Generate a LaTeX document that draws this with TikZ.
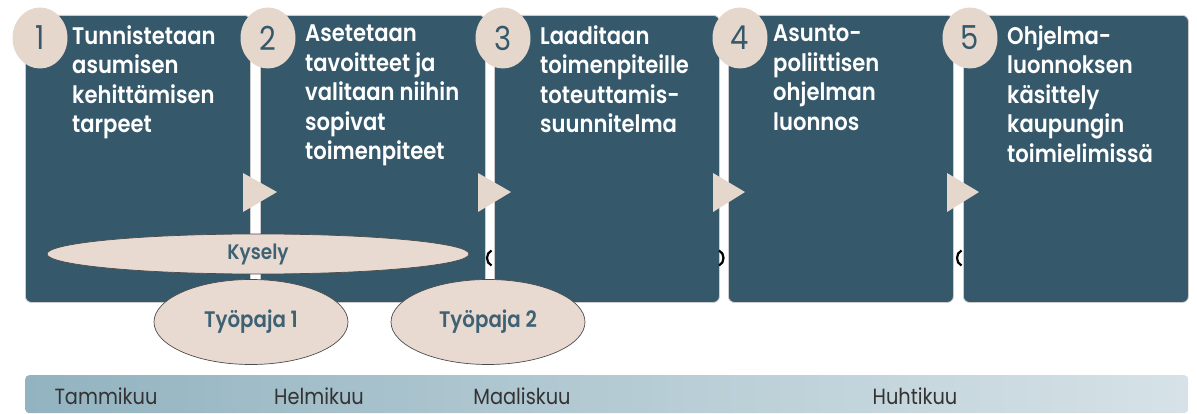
\documentclass[tikz,border=0pt]{standalone}
\usepackage{fontspec}
\setmainfont{Poppins}[FakeStretch=0.88, BoldFont={* SemiBold}]
\usetikzlibrary{shapes.geometric}
\definecolor{boxc}{HTML}{35596B}
\definecolor{beige}{HTML}{E6D7CD}
\definecolor{ellc}{HTML}{E8DAD1}
\definecolor{numc}{HTML}{35596B}
\definecolor{kys}{HTML}{3E6274}
\definecolor{barl}{HTML}{92B3C0}
\definecolor{barr}{HTML}{D6E2E7}
\definecolor{montc}{HTML}{333333}
\begin{document}
\begin{tikzpicture}[x=1pt,y=-1pt,
 stepbox/.style={draw=black!20, line width=0.8pt, fill=boxc, rounded corners=6pt, minimum width=225pt, minimum height=287pt, anchor=north west, inner sep=0pt},
 boxtext/.style={anchor=north west, align=left, text=white, font=\fontsize{24}{29.5}\selectfont\bfseries, inner sep=0pt},
 numcirc/.style={ellipse, fill=beige, minimum width=55pt, minimum height=61pt, inner sep=0pt, text=numc, font=\fontsize{33}{33}\selectfont},
 marker/.style={fill=beige},
 frag/.style={line width=2.2pt, black},
 evt/.style={ellipse, draw=black!70, line width=0.7pt, fill=ellc, inner sep=0pt, text=kys, font=\bfseries},
 month/.style={text=montc, font=\fontsize{22}{22}\selectfont, inner sep=0pt},
 barbox/.style={anchor=north west, rounded corners=4pt, minimum width=1163pt, minimum height=38pt, inner sep=0pt, left color=barl, right color=barr, draw=none}
]
\useasboundingbox (0,0) rectangle (1197,414);
% step boxes
\node[stepbox] (b1) at (25,15) {};
\node[stepbox] (b2) at (260,15) {};
\node[stepbox] (b3) at (494,15) {};
\node[stepbox] (b4) at (728,15) {};
\node[stepbox] (b5) at (963,15) {};
% texts
\node[boxtext] (t1) at (72,25) {Tunnistetaan\\asumisen\\kehittämisen\\tarpeet};
\node[boxtext] (t2) at (305,25) {Asetetaan\\tavoitteet ja\\valitaan niihin\\sopivat\\toimenpiteet};
\node[boxtext] (t3) at (540,25) {Laaditaan\\toimenpiteille\\toteuttamis-\\suunnitelma};
\node[boxtext] (t4) at (773,25) {Asunto-\\poliittisen\\ohjelman\\luonnos};
\node[boxtext] (t5) at (1007,25) {Ohjelma-\\luonnoksen\\käsittely\\kaupungin\\toimielimissä};
% arrow markers
\fill[marker] (243,173) -- (277,192) -- (243,212) -- cycle;
\fill[marker] (478,173) -- (511,192) -- (478,212) -- cycle;
\fill[marker] (713,173) -- (745,192) -- (713,212) -- cycle;
\fill[marker] (947,173) -- (979,192) -- (947,212) -- cycle;
% black fragments in gaps
\draw[frag] (491.5,250.5) .. controls (485.5,253) and (485.5,263) .. (491.5,265.5);
\draw[frag] (719,250.5) .. controls (725,253) and (725,263) .. (719,265.5);
\draw[frag] (961.5,250.5) .. controls (955.5,253) and (955.5,263) .. (961.5,265.5);
% events
\node[evt, minimum width=422pt, minimum height=40pt, font=\fontsize{21}{21}\selectfont\bfseries] (kysely) at (258,254) {Kysely};
\node[evt, minimum width=194pt, minimum height=85pt, font=\fontsize{22.5}{22.5}\selectfont\bfseries] (tp1) at (251,322) {Työpaja 1};
\node[evt, minimum width=194pt, minimum height=85pt, font=\fontsize{22.5}{22.5}\selectfont\bfseries] (tp2) at (488,322) {Työpaja 2};
% number circles
\node[numcirc] (c1) at (40,38) {1};
\node[numcirc] (c2) at (268,38) {2};
\node[numcirc] (c3) at (503,38) {3};
\node[numcirc] (c4) at (740,38) {4};
\node[numcirc] (c5) at (970,38) {5};
% timeline
\node[barbox] (bar) at (25,375) {};
\node[month] (m1) at (106,396) {Tammikuu};
\node[month] (m2) at (319,396) {Helmikuu};
\node[month] (m3) at (522,396) {Maaliskuu};
\node[month] (m4) at (915,396) {Huhtikuu};
\end{tikzpicture}
\end{document}
